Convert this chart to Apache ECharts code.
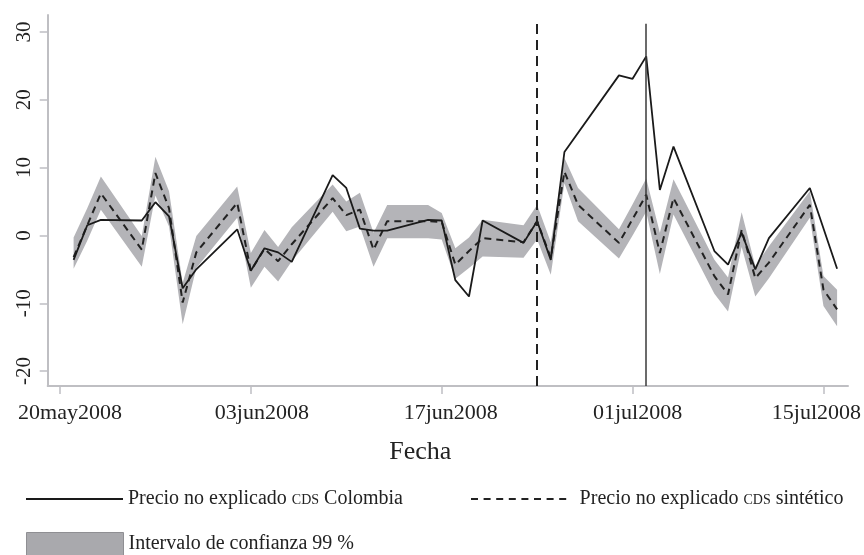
<!DOCTYPE html>
<html>
<head>
<meta charset="utf-8">
<script src="https://cdn.jsdelivr.net/npm/echarts@6/dist/echarts.min.js"></script>
<style>
  html, body { margin: 0; padding: 0; background: #ffffff; }
  #chart { width: 864px; height: 555px; }
</style>
</head>
<body>
<div id="chart"></div>
<script>
// Trading days (business days) of the sample
const dates = [
  '2008-05-21','2008-05-22','2008-05-23','2008-05-26','2008-05-27','2008-05-28','2008-05-29','2008-05-30',
  '2008-06-02','2008-06-03','2008-06-04','2008-06-05','2008-06-06',
  '2008-06-09','2008-06-10','2008-06-11','2008-06-12','2008-06-13',
  '2008-06-16','2008-06-17','2008-06-18','2008-06-19','2008-06-20',
  '2008-06-23','2008-06-24','2008-06-25','2008-06-26','2008-06-27',
  '2008-06-30','2008-07-01','2008-07-02','2008-07-03','2008-07-04',
  '2008-07-07','2008-07-08','2008-07-09','2008-07-10','2008-07-11',
  '2008-07-14','2008-07-15','2008-07-16'
];

// Unexplained price, CDS Colombia (null = no observation)
const colombia = [
  -3.6, 1.5, 2.3, 2.2, 4.9, 2.8, -7.8, -5.0,
  0.9, -5.2, -1.9, -2.5, -3.9,
  8.9, 7.0, 1.0, 0.7, 0.7,
  2.3, 2.2, -6.6, -9.0, 2.2,
  -1.1, 2.1, -3.6, 12.3, null,
  23.6, 23.1, 26.4, 6.7, 13.1,
  -2.3, -4.3, 0.4, -5.0, -0.4,
  7.0, null, -4.9
];

// Unexplained price, synthetic CDS
const sintetico = [
  -3.2, 1.5, 6.2, -2.1, 9.2, 4.0, -9.9, -2.5,
  4.8, -5.2, -2.0, -3.8, -1.3,
  5.5, 3.0, 3.8, -2.1, 2.1,
  2.1, 2.0, -4.3, -2.3, -0.4,
  -1.0, 2.1, -3.3, 9.4, 4.5,
  -1.1, 2.4, 6.0, -2.6, 5.5,
  -6.0, -8.7, 0.8, -6.3, -4.0,
  4.5, -8.0, -10.9
];

// 99 % confidence interval bounds
const ciLower = [
  -4.9, -0.8, 3.8, -4.6, 5.9, 1.3, -13.1, -4.8,
  2.6, -7.7, -4.6, -6.8, -3.8,
  3.5, 0.6, 1.3, -4.6, -0.4,
  -0.4, -0.6, -6.4, -4.8, -3.1,
  -3.3, -0.6, -5.8, 7.7, 2.1,
  -3.4, 0.0, 3.5, -5.7, 3.1,
  -8.6, -11.2, -1.7, -9.0, -6.3,
  2.6, -10.4, -13.4
];
const ciUpper = [
  -0.3, 4.0, 8.7, -0.1, 11.6, 6.5, -7.0, -0.1,
  7.2, -2.6, 0.8, -1.7, 1.2,
  7.5, 5.0, 6.3, 0.4, 4.5,
  4.5, 3.3, -1.9, -0.3, 2.3,
  1.5, 4.5, -1.0, 11.4, 7.0,
  0.9, 4.6, 8.4, 0.4, 8.3,
  -3.6, -6.2, 3.4, -4.5, -1.6,
  6.5, -6.0, -8.0
];

// Axis ticks and labels
const tickDates = ['2008-05-20', '2008-06-03', '2008-06-17', '2008-07-01', '2008-07-15'];
const tickLabels = ['20may2008', '03jun2008', '17jun2008', '01jul2008', '15jul2008'];
const yTicks = [-20, -10, 0, 10, 20, 30];

// Reference dates marked with vertical lines
const eventDashed = '2008-06-24';
const eventSolid = '2008-07-02';

const nameColombia = 'Precio no explicado cds Colombia';
const nameSintetico = 'Precio no explicado cds sintético';
const nameCI = 'Intervalo de confianza 99 %';

const DAY = 86400000;
const toTime = s => Date.UTC(+s.slice(0, 4), +s.slice(5, 7) - 1, +s.slice(8, 10));
const times = dates.map(toTime);
const tickTimes = tickDates.map(toTime);
const pairs = vals => times.map((t, i) => [t, vals[i]]);

const FONT = '"Liberation Serif", "DejaVu Serif", serif';
const AXIS_GREY = '#bfbfc3';
const BAND_GREY = '#b4b4b8';
const Y_MIN = -22.2, Y_MAX = 32.5;
const X_MIN = tickTimes[0] - 0.9 * DAY, X_MAX = tickTimes[0] + 57.8 * DAY;
const LINE_TOP = 31.2;

// horizontal nudge (px) of each date label relative to its tick
const labelNudge = [10, 11, 9, 5, -7];
const labelRich = {};
labelNudge.forEach((n, i) => {
  labelRich['l' + i] = {
    fontFamily: FONT, fontSize: 22, color: '#222',
    padding: n >= 0 ? [0, 0, 0, 2 * n] : [0, -2 * n, 0, 0]
  };
});

// legend glyph for the dashed series: eight short dashes
let dashPath = 'path://';
for (let k = 0; k < 8; k++) dashPath += 'M' + (k * 12.6) + ',0h7v2h-7z';

const chart = echarts.init(document.getElementById('chart'), null, { renderer: 'canvas' });

const legendText = {
  fontFamily: FONT, fontSize: 20, color: '#222',
  rich: { sc: { fontFamily: FONT, fontSize: 14, color: '#222', padding: [3, 0, 0, 0] } }
};
const legendFormatter = name => name.replace('cds', '{sc|CDS}');

chart.setOption({
  animation: false,
  backgroundColor: '#ffffff',
  grid: { left: 47.7, right: 16, top: 15, bottom: 169, containLabel: false, outerBoundsMode: 'none' },
  xAxis: {
    type: 'value',
    min: X_MIN,
    max: X_MAX,
    scale: true,
    name: 'Fecha',
    nameLocation: 'middle',
    nameGap: 53,
    nameTextStyle: { fontFamily: FONT, fontSize: 26, color: '#222', padding: [0, 55, 0, 0] },
    axisLine: { show: true, onZero: false, lineStyle: { color: AXIS_GREY, width: 2 } },
    axisTick: { show: true, length: 8, lineStyle: { color: AXIS_GREY, width: 1.5 }, customValues: tickTimes },
    axisLabel: {
      fontFamily: FONT, fontSize: 22, color: '#222', margin: 16,
      customValues: tickTimes,
      hideOverlap: false,
      rich: labelRich,
      formatter: v => {
        const i = tickTimes.findIndex(t => Math.abs(t - v) < DAY / 2);
        return i >= 0 ? '{l' + i + '|' + tickLabels[i] + '}' : '';
      }
    },
    splitLine: { show: false }
  },
  yAxis: {
    type: 'value',
    min: Y_MIN,
    max: Y_MAX,
    axisLine: { show: true, onZero: false, lineStyle: { color: AXIS_GREY, width: 2 } },
    axisTick: { show: true, length: 8, lineStyle: { color: AXIS_GREY, width: 1.5 }, customValues: yTicks },
    axisLabel: {
      fontFamily: FONT, fontSize: 21, color: '#222', rotate: 90, margin: 13,
      customValues: yTicks
    },
    splitLine: { show: false }
  },
  legend: [
    {
      data: [{ name: nameColombia, icon: 'rect' }], left: 26, top: 489, padding: 0,
      itemWidth: 97, itemHeight: 2, itemStyle: { color: '#1a1a1a', borderWidth: 0 },
      textStyle: legendText, formatter: legendFormatter, selectedMode: false
    },
    {
      data: [{ name: nameSintetico, icon: dashPath }], left: 471, top: 489, padding: 0,
      itemWidth: 96, itemHeight: 2, itemStyle: { color: '#222', borderWidth: 0 },
      textStyle: Object.assign({}, legendText, { padding: [0, 0, 0, 8] }),
      formatter: legendFormatter, selectedMode: false
    },
    {
      data: [{ name: nameCI, icon: 'rect' }], left: 26, top: 532, padding: 0,
      itemWidth: 97, itemHeight: 23,
      itemStyle: { color: '#a9a9ad', borderColor: '#8f8f93', borderWidth: 1 },
      textStyle: legendText, selectedMode: false
    }
  ],
  series: [
    {
      // shaded confidence band: polygon through the upper bounds and back along the lower bounds
      name: nameCI,
      type: 'custom',
      data: times.map((t, i) => [t, ciLower[i], ciUpper[i]]),
      encode: { x: 0, y: [1, 2] },
      itemStyle: { color: BAND_GREY },
      silent: true,
      z: 1,
      renderItem: (params, api) => {
        if (params.dataIndex !== 0) return null;
        const pts = [];
        for (let i = 0; i < times.length; i++) pts.push(api.coord([times[i], ciUpper[i]]));
        for (let i = times.length - 1; i >= 0; i--) pts.push(api.coord([times[i], ciLower[i]]));
        return { type: 'polygon', shape: { points: pts }, style: { fill: BAND_GREY, stroke: null } };
      }
    },
    {
      name: nameSintetico,
      type: 'line',
      data: pairs(sintetico),
      symbol: 'none',
      itemStyle: { color: '#222' },
      lineStyle: { color: '#222', width: 2, type: [7, 5] },
      z: 3,
      markLine: {
        symbol: 'none', silent: true, label: { show: false },
        lineStyle: { color: '#222', width: 2, type: [10, 6] },
        data: [[{ coord: [toTime(eventDashed), Y_MIN] }, { coord: [toTime(eventDashed), LINE_TOP] }]]
      }
    },
    {
      name: nameColombia,
      type: 'line',
      data: pairs(colombia),
      connectNulls: true,
      symbol: 'none',
      itemStyle: { color: '#1a1a1a' },
      lineStyle: { color: '#1a1a1a', width: 1.8, type: 'solid' },
      z: 4,
      markLine: {
        symbol: 'none', silent: true, label: { show: false },
        lineStyle: { color: '#3a3a3a', width: 1.5, type: 'solid' },
        data: [[{ coord: [toTime(eventSolid), Y_MIN] }, { coord: [toTime(eventSolid), LINE_TOP] }]]
      }
    }
  ]
});
</script>
</body>
</html>
